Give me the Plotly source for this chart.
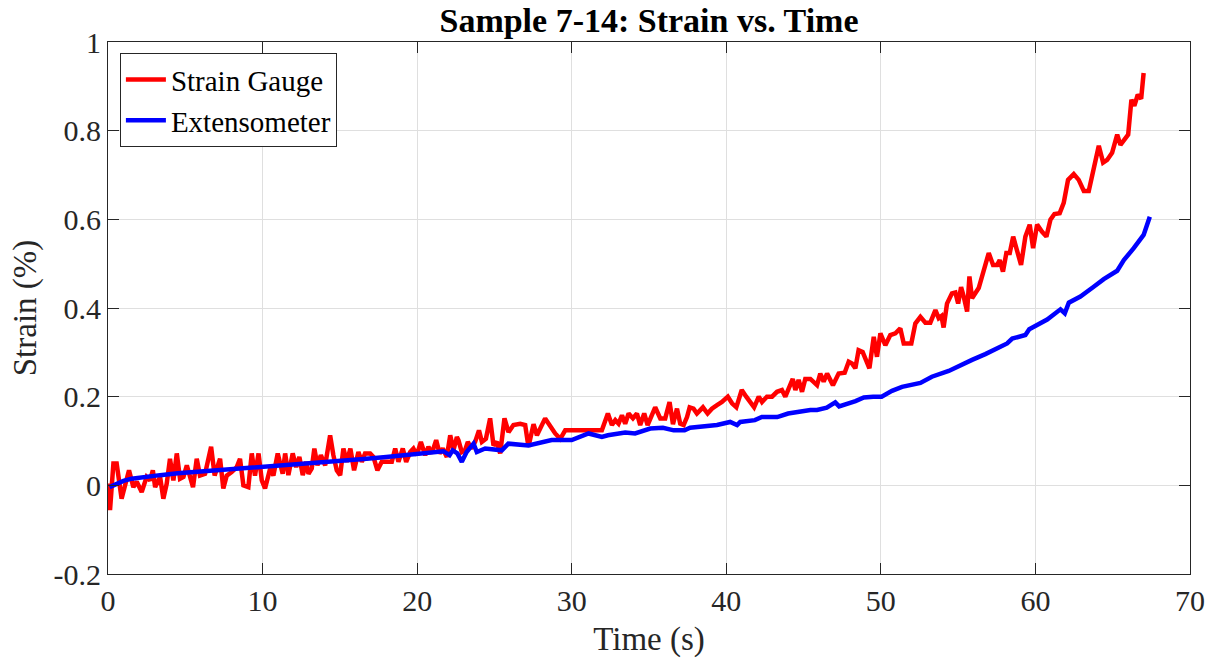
import plotly.graph_objects as go

# Strain Gauge (red)
gauge_t = [0.0, 0.13, 0.35, 0.56, 0.88, 1.1, 1.36, 1.64, 1.86, 2.18, 2.5, 2.72, 2.9, 3.05, 3.37, 3.58, 3.8,
           4.01, 4.23, 4.45, 4.66, 4.88, 5.1, 5.31, 5.5, 5.74, 5.95, 6.28, 6.67, 6.9, 7.25, 7.46, 7.68, 8.0,
           8.33, 8.54, 8.76, 9.08, 9.3, 9.51, 9.74, 9.95, 10.16, 10.49, 10.7, 10.98, 11.3, 11.46, 11.67, 11.95,
           12.17, 12.38, 12.6, 12.82, 12.97, 13.18, 13.35, 13.55, 13.77, 14.05, 14.37, 14.58, 14.8, 15.02, 15.23,
           15.45, 15.68, 15.92, 16.2, 16.42, 16.63, 16.96, 17.17, 17.43, 17.71, 18.36, 18.58, 18.79, 19.07, 19.29,
           19.55, 19.76, 19.98, 20.24, 20.52, 20.73, 20.95, 21.23, 21.45, 21.66, 21.92, 22.14, 22.35, 22.57, 22.67,
           22.89, 23.1, 23.28, 23.5, 23.75, 24.0, 24.19, 24.45, 24.72, 24.94, 25.16, 25.37, 25.65, 25.91, 26.23,
           26.67, 26.99, 27.2, 27.53, 27.75, 28.28, 28.61, 28.93, 29.26, 29.58, 31.95, 32.34, 32.6, 32.82, 33.03,
           33.25, 33.46, 33.68, 33.96, 34.22, 34.43, 34.69, 34.91, 35.12, 35.4, 35.73, 36.05, 36.33, 36.55, 36.81,
           37.02, 37.24, 37.46, 37.63, 37.88, 38.1, 38.49, 38.79, 39.07, 39.4, 39.72, 40.1, 40.37, 40.65, 41.0,
           41.29, 41.55, 41.8, 42.1, 42.31, 42.63, 42.96, 43.28, 43.6, 43.82, 44.03, 44.3, 44.47, 44.68, 44.9,
           45.11, 45.44, 45.55, 45.87, 46.08, 46.3, 46.52, 46.9, 47.27, 47.66, 47.92, 48.13, 48.35, 48.56, 48.82,
           49.06, 49.26, 49.54, 49.75, 49.97, 50.29, 50.61, 50.94, 51.26, 51.48, 51.97, 52.23, 52.56, 52.88, 53.2,
           53.53, 53.74, 53.92, 54.06, 54.28, 54.6, 54.82, 55.0, 55.19, 55.36, 55.58, 55.73, 55.9, 56.33, 56.76,
           56.98, 57.26, 57.52, 57.69, 57.9, 58.12, 58.34, 58.56, 58.82, 59.07, 59.35, 59.63, 59.85, 60.11, 60.43,
           60.71, 60.97, 61.23, 61.57, 61.83, 62.11, 62.48, 62.8, 63.13, 63.45, 63.77, 64.1, 64.38, 64.64, 64.96,
           65.29, 65.5, 66.0, 66.21, 66.4, 66.62, 66.84, 67.0]
gauge_s = [0.004, -0.056, 0.049, 0.049, -0.03, 0.0, 0.034, -0.004, 0.008, -0.015, 0.019, 0.011, 0.034, -0.004, 0.019,
           -0.03, 0.004, 0.06, 0.011, 0.072, 0.015, 0.019, 0.045, 0.019, -0.004, 0.06, 0.022, 0.026, 0.087, 0.022,
           0.06, -0.007, 0.022, 0.03, 0.041, 0.06, 0.0, -0.004, 0.072, 0.022, 0.072, 0.011, -0.007, 0.038, 0.022,
           0.072, 0.026, 0.072, 0.023, 0.072, 0.041, 0.064, 0.023, 0.053, 0.026, 0.038, 0.083, 0.045, 0.068, 0.045,
           0.113, 0.068, 0.034, 0.023, 0.083, 0.053, 0.083, 0.034, 0.075, 0.053, 0.072, 0.072, 0.064, 0.034, 0.053,
           0.053, 0.083, 0.053, 0.083, 0.053, 0.075, 0.083, 0.068, 0.098, 0.068, 0.087, 0.072, 0.102, 0.072, 0.083,
           0.064, 0.113, 0.079, 0.109, 0.102, 0.075, 0.079, 0.098, 0.083, 0.098, 0.124, 0.098, 0.105, 0.151, 0.09,
           0.098, 0.072, 0.151, 0.12, 0.136, 0.139, 0.136, 0.087, 0.138, 0.113, 0.151, 0.132, 0.117, 0.105, 0.124,
           0.124, 0.162, 0.136, 0.147, 0.139, 0.158, 0.139, 0.162, 0.151, 0.162, 0.136, 0.162, 0.136, 0.151, 0.176,
           0.151, 0.151, 0.188, 0.138, 0.173, 0.139, 0.136, 0.154, 0.176, 0.173, 0.162, 0.176, 0.162, 0.173, 0.181,
           0.188, 0.2, 0.185, 0.176, 0.215, 0.2, 0.188, 0.176, 0.2, 0.188, 0.2, 0.2, 0.211, 0.215, 0.2, 0.215, 0.24,
           0.215, 0.238, 0.211, 0.24, 0.24, 0.237, 0.226, 0.252, 0.234, 0.252, 0.226, 0.252, 0.254, 0.279, 0.275,
           0.264, 0.305, 0.301, 0.282, 0.264, 0.335, 0.29, 0.343, 0.316, 0.339, 0.343, 0.354, 0.32, 0.32, 0.365,
           0.38, 0.367, 0.367, 0.395, 0.377, 0.382, 0.356, 0.41, 0.433, 0.435, 0.41, 0.447, 0.426, 0.392, 0.471,
           0.422, 0.445, 0.5, 0.524, 0.497, 0.497, 0.508, 0.482, 0.524, 0.524, 0.561, 0.524, 0.497, 0.561, 0.588,
           0.535, 0.588, 0.572, 0.561, 0.599, 0.612, 0.614, 0.637, 0.689, 0.702, 0.689, 0.664, 0.664, 0.719, 0.766,
           0.728, 0.734, 0.75, 0.791, 0.768, 0.791, 0.87, 0.856, 0.881, 0.872, 0.93]

# Extensometer (blue)
ext_t = [0.1, 1.0, 1.53, 2.5, 3.37, 4.5, 5.63, 6.7, 7.8, 9.0, 10.16, 11.13, 12.5, 14.37, 15.5, 16.74, 18.0, 19.33,
         20.3, 21.27, 21.7, 22.1, 22.3, 22.6, 22.89, 23.2, 23.65, 23.86, 24.4, 25.48, 25.9, 27.2, 28.7, 30.0, 31.09,
         31.95, 32.34, 33.46, 34.1, 35.08, 35.9, 36.6, 37.3, 37.66, 39.4, 40.25, 40.7, 40.9, 41.85, 42.3, 43.3, 44.0,
         44.6, 45.44, 45.87, 46.5, 47.05, 47.3, 48.36, 48.9, 49.5, 50.05, 50.72, 51.37, 52.56, 53.3, 54.39, 55.25,
         55.9, 56.76, 57.3, 58.17, 58.5, 59.35, 59.6, 60.11, 60.76, 61.62, 61.9, 62.16, 62.91, 63.77, 64.42, 65.29,
         65.72, 66.36, 67.0, 67.4]
ext_s = [-0.004, 0.01, 0.015, 0.02, 0.023, 0.027, 0.03, 0.033, 0.035, 0.038, 0.041, 0.043, 0.048, 0.053, 0.057, 0.06,
         0.064, 0.068, 0.071, 0.075, 0.077, 0.068, 0.079, 0.072, 0.053, 0.075, 0.094, 0.075, 0.083, 0.079, 0.094,
         0.09, 0.102, 0.102, 0.117, 0.109, 0.113, 0.119, 0.117, 0.128, 0.13, 0.124, 0.124, 0.13, 0.136, 0.143,
         0.136, 0.143, 0.147, 0.154, 0.154, 0.162, 0.166, 0.17, 0.17, 0.175, 0.187, 0.178, 0.19, 0.198, 0.2, 0.2,
         0.213, 0.222, 0.231, 0.245, 0.258, 0.273, 0.283, 0.296, 0.305, 0.32, 0.331, 0.339, 0.352, 0.362, 0.374,
         0.397, 0.388, 0.412, 0.426, 0.448, 0.465, 0.484, 0.508, 0.535, 0.565, 0.606]

x_ticks = [0, 10, 20, 30, 40, 50, 60, 70]
y_ticks = [-0.2, 0, 0.2, 0.4, 0.6, 0.8, 1]
y_tick_labels = ["-0.2", "0", "0.2", "0.4", "0.6", "0.8", "1"]

FONT = "Liberation Serif, Times New Roman, serif"
AXIS_COLOR = "#262626"

fig = go.Figure()
fig.add_trace(go.Scatter(x=gauge_t, y=gauge_s, mode="lines", name="Strain Gauge",
                         line=dict(color="#ff0000", width=4.5)))
fig.add_trace(go.Scatter(x=ext_t, y=ext_s, mode="lines", name="Extensometer",
                         line=dict(color="#0000ff", width=4.5)))

axis_common = dict(
    showline=True, linecolor=AXIS_COLOR, linewidth=1, mirror="ticks",
    ticks="inside", ticklen=11, tickcolor=AXIS_COLOR, tickwidth=1,
    showgrid=True, gridcolor="#dfdfdf", gridwidth=1, zeroline=False, automargin=False,
    tickfont=dict(family=FONT, size=30, color=AXIS_COLOR),
)

fig.update_xaxes(range=[0, 70], tickvals=x_ticks, ticktext=[str(v) for v in x_ticks],
                 title=dict(text="Time (s)", font=dict(family=FONT, size=33, color=AXIS_COLOR), standoff=10),
                 **axis_common)
fig.update_yaxes(range=[-0.2, 1], tickvals=y_ticks, ticktext=y_tick_labels,
                 title=dict(text="Strain (%)", font=dict(family=FONT, size=33, color=AXIS_COLOR), standoff=6),
                 **axis_common)

fig.update_layout(
    width=1219, height=662,
    margin=dict(l=108, r=29, t=42, b=88, autoexpand=False),
    paper_bgcolor="white", plot_bgcolor="white",
    title=dict(text="<b>Sample 7-14: Strain vs. Time</b>", x=(108 + 1190) / 2 / 1219, xanchor="center",
               y=1 - 20 / 662, yanchor="middle", font=dict(family=FONT, size=34, color="#000000")),
    legend=dict(x=0.011, y=0.979, xanchor="left", yanchor="top", bgcolor="white",
                bordercolor=AXIS_COLOR, borderwidth=1, itemwidth=40,
                font=dict(family=FONT, size=29, color="#000000"), tracegroupgap=0),
    showlegend=True,
)

# remove the browser's default 8px body margin so the figure fills the window exactly
fig.write_html("out.html", config={"displayModeBar": False},
               post_script="document.body.style.margin='0';document.body.style.padding='0';")
